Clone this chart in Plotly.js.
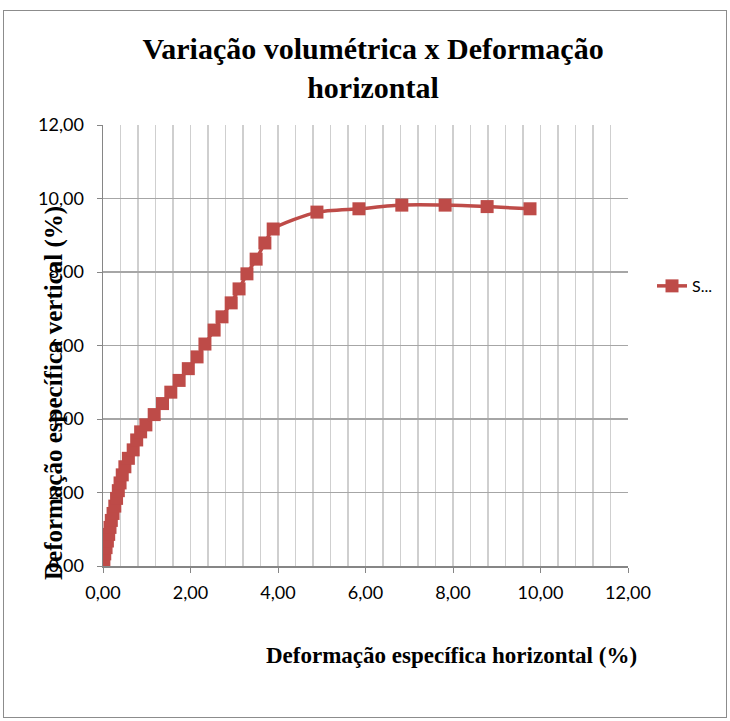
<!DOCTYPE html>
<html>
<head>
<meta charset="utf-8">
<script src="https://cdn.plot.ly/plotly-3.0.1.min.js"></script>
<style>
  html, body { margin: 0; padding: 0; background: #fff; }
  #chart { width: 730px; height: 721px; }
  #frame { position: absolute; left: 3px; top: 10px; width: 722px; height: 706px; border: 1px solid #8c8c8c; pointer-events: none; }
</style>
</head>
<body>
<div id="chart"></div>
<div id="frame"></div>
<script>
// Horizontal strain (%)
const horizontalStrain = [
  0.00, 0.02, 0.04, 0.07, 0.10, 0.13, 0.16, 0.19, 0.23, 0.27, 0.31, 0.35, 0.39, 0.44,
  0.50, 0.58, 0.69, 0.77, 0.86, 0.98, 1.17, 1.36, 1.55, 1.74, 1.95, 2.15, 2.33, 2.54,
  2.72, 2.93, 3.11, 3.29, 3.50, 3.70, 3.89, 4.89, 5.85, 6.83, 7.82, 8.78, 9.76
];
// Vertical strain (%)
const verticalStrain = [
  0.00, 0.16, 0.33, 0.50, 0.68, 0.86, 1.05, 1.24, 1.43, 1.63, 1.84, 2.05, 2.26, 2.48,
  2.70, 2.93, 3.16, 3.43, 3.65, 3.84, 4.12, 4.42, 4.73, 5.05, 5.37, 5.69, 6.04, 6.42,
  6.78, 7.16, 7.54, 7.95, 8.35, 8.79, 9.17, 9.63, 9.72, 9.82, 9.82, 9.78, 9.72
];
const seriesName = "S...";
const chartTitle = "Variação volumétrica x Deformação<br>horizontal";
const xTitle = "Deformação específica horizontal (%)";
const yTitle = "Deformação específica vertical (%)";

const red = "#BE4B48";
const serif = "Liberation Serif, Times New Roman, serif";
const sans = "Lato, Carlito, Liberation Sans, sans-serif";

const trace = {
  x: horizontalStrain,
  y: verticalStrain,
  type: "scatter",
  mode: "lines+markers",
  name: seriesName,
  line: { color: red, width: 3.5, shape: "spline", smoothing: 0.6 },
  marker: { symbol: "square", size: 13, color: red }
};

const layout = {
  width: 730,
  height: 721,
  margin: { l: 103, r: 102, t: 125, b: 155 },
  paper_bgcolor: "#ffffff",
  plot_bgcolor: "#ffffff",
  separators: ",.",
  showlegend: true,
  title: {
    text: "<b>" + chartTitle + "</b>",
    font: { family: serif, size: 30, color: "#000" },
    x: (373 - 103) / 525, xanchor: "center",
    y: 1 - 59 / 721, yanchor: "middle",
    xref: "paper", yref: "container"
  },
  xaxis: {
    range: [0, 12],
    dtick: 2,
    tickformat: ".2f",
    ticks: "outside",
    ticklen: 5,
    tickcolor: "#868686",
    ticklabelstandoff: 5,
    showline: true,
    linecolor: "#868686",
    linewidth: 1.5,
    showgrid: true,
    gridcolor: "#cfcfcf",
    gridwidth: 1.5,
    minor: { dtick: 0.4, showgrid: true, gridcolor: "#cfcfcf", gridwidth: 1.5 },
    zeroline: false,
    tickfont: { family: sans, size: 18, color: "#000" },
    fixedrange: true
  },
  yaxis: {
    range: [0, 12],
    dtick: 2,
    tickformat: ".2f",
    ticks: "outside",
    ticklen: 5,
    tickcolor: "#868686",
    ticklabelstandoff: 9,
    showline: true,
    linecolor: "#868686",
    linewidth: 1.5,
    showgrid: true,
    gridcolor: "#a6a6a6",
    gridwidth: 1.5,
    zeroline: false,
    tickfont: { family: sans, size: 18, color: "#000" },
    fixedrange: true
  },
  legend: {
    xref: "container",
    x: 652 / 730, xanchor: "left",
    y: 0.635, yanchor: "middle",
    font: { family: sans, size: 16, color: "#000" },
    bgcolor: "rgba(0,0,0,0)",
    itemwidth: 30
  },
  annotations: [
    {
      text: "<b>" + xTitle + "</b>",
      xref: "paper", yref: "paper",
      x: (451 - 103) / 525, y: (566 - 655) / 441,
      xanchor: "center", yanchor: "middle",
      showarrow: false,
      font: { family: serif, size: 23, color: "#000" }
    },
    {
      text: "<b>" + yTitle + "</b>",
      xref: "paper", yref: "paper",
      x: (54 - 103) / 525, y: (566 - 393) / 441,
      xanchor: "center", yanchor: "middle",
      textangle: -90,
      showarrow: false,
      font: { family: serif, size: 25, color: "#000" }
    }
  ]
};

Plotly.newPlot("chart", [trace], layout, { displayModeBar: false, staticPlot: true });
</script>
</body>
</html>
